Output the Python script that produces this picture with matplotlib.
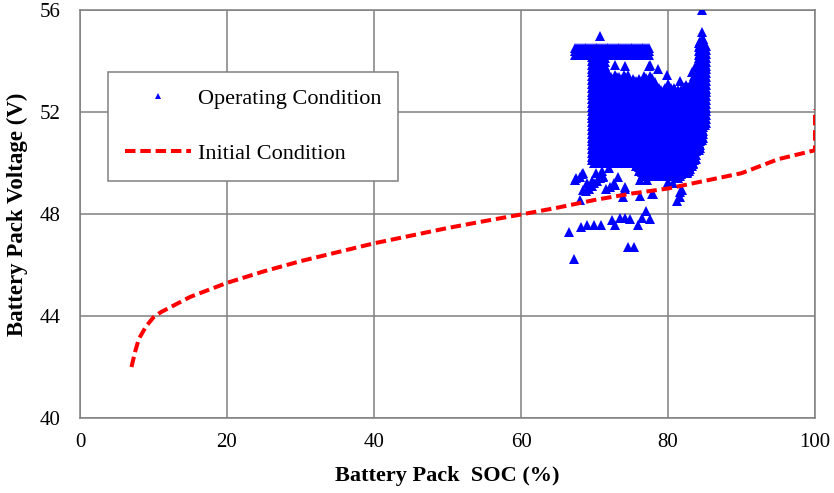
import numpy as np
import matplotlib
matplotlib.use("Agg")
import matplotlib.pyplot as plt

plt.rcParams['font.family'] = ['Liberation Serif', 'DejaVu Serif']

# ---------------- data ----------------
# Initial condition curve (SOC %, voltage V)
init_soc = [7, 7.5, 8, 9, 10, 11, 13, 15, 20, 25, 30, 35, 40, 45, 50, 55, 60,
            65, 70, 75, 80, 85, 90, 95, 100, 100]
init_v = [42.0, 42.6, 43.1, 43.6, 43.95, 44.15, 44.45, 44.75, 45.3, 45.75, 46.15,
          46.5, 46.85, 47.15, 47.45, 47.72, 47.98, 48.25, 48.55, 48.8, 49.0,
          49.3, 49.6, 50.15, 50.5, 52.1]

# Operating condition: dense core read as column envelopes (SOC, low V, high V)
core_soc = [69.6, 70.0, 70.4, 70.8, 71.2, 71.6, 72.0, 72.4, 72.8, 73.2, 73.6,
            74.0, 74.4, 74.8, 75.2, 75.6, 76.0, 76.4, 76.8, 77.2, 77.6, 78.0,
            78.4, 78.8, 79.2, 79.6, 80.0, 80.4, 80.8, 81.2, 81.6, 82.0, 82.4,
            82.8, 83.2, 83.6, 84.2, 84.6, 85.0]
core_vlo = [50.1, 50.0, 50.0, 50.0, 50.0, 50.0, 50.0, 50.0, 50.0, 50.0, 50.0,
            50.0, 50.0, 50.0, 50.0, 49.9, 49.7, 49.5, 49.5, 49.5, 49.5, 49.5,
            49.5, 49.5, 49.5, 49.5, 49.5, 49.5, 49.5, 49.5, 49.5, 49.6, 49.6,
            49.7, 49.9, 50.1, 50.5, 50.9, 51.5]
core_vhi = [54.3, 54.3, 54.3, 54.3, 54.3, 53.6, 53.4, 53.3, 53.5, 53.4, 53.3,
            53.5, 53.3, 53.2, 53.3, 53.2, 53.3, 53.2, 53.4, 53.3, 53.4, 53.2,
            53.0, 53.0, 52.9, 53.0, 53.1, 53.0, 53.0, 52.9, 52.9, 53.0, 53.1,
            53.0, 53.2, 53.4, 54.8, 54.9, 54.6]

# upper plateau band (SOC span, voltage span)
plateau_soc = [67.4, 77.5]
plateau_v = [54.25, 54.4, 54.5]

# individual scattered points (SOC, V)
pts_soc = [70.7, 71.7, 72.8, 74.1, 74.6, 77.4, 77.6, 78.6, 79.9, 81.6, 83.3,
           83.7, 84.6, 84.6, 84.8,
           67.3, 68.0, 68.4, 69.7, 71.2, 72.1, 72.8, 73.2, 74.1, 76.2, 77.1,
           78.0, 80.0, 81.4, 82.6, 81.9, 81.6, 83.4,
           67.5, 68.3, 69.0, 69.7, 68.4, 68.0, 68.8, 69.2, 69.6, 70.0, 70.4,
           70.8, 71.2, 71.6, 72.0, 72.6, 70.2, 71.0,
           74.1, 73.9, 76.2, 77.8, 81.2, 81.6, 80.7, 82.6,
           66.5, 67.2, 68.2, 69.0, 69.9, 70.9, 72.4, 72.8, 73.5, 74.1, 74.8,
           75.9, 76.5, 77.6, 77.0, 74.6, 75.4]
pts_v = [55.0, 53.6, 53.85, 53.8, 53.45, 53.8, 53.85, 53.7, 53.45, 53.2, 53.55,
         53.75, 56.0, 55.15, 54.85,
         49.35, 49.45, 49.6, 49.25, 49.45, 49.05, 49.15, 49.45, 49.0, 49.35, 49.35,
         48.8, 49.25, 49.4, 49.65, 48.95, 48.65, 50.0,
         49.4, 49.55, 49.2, 49.3, 48.95, 48.55, 48.9, 49.0, 49.1, 49.2, 49.3,
         49.4, 49.5, 49.0, 49.8, 49.2, 49.6, 49.7,
         49.05, 48.65, 48.7, 48.8, 48.5, 48.85, 49.2, 49.6,
         47.3, 46.25, 47.5, 47.55, 47.55, 47.55, 47.75, 47.55, 47.85, 47.85, 47.8,
         47.55, 47.85, 47.8, 48.1, 46.7, 46.7]

x_ticks = [0, 20, 40, 60, 80, 100]
y_ticks = [40, 44, 48, 52, 56]

# ---------------- build point cloud ----------------
op_x, op_y = [], []
for s, lo, hi in zip(core_soc, core_vlo, core_vhi):
    for v in np.arange(lo, hi + 1e-9, 0.15):
        op_x.append(s)
        op_y.append(v)
    for v in np.arange(lo + 0.07, hi + 1e-9, 0.15):
        op_x.append(s + 0.2)
        op_y.append(v)
for s in np.arange(plateau_soc[0], plateau_soc[1] + 1e-9, 0.25):
    for v in plateau_v:
        op_x.append(s)
        op_y.append(v)
op_x += pts_soc
op_y += pts_v

# ---------------- plot ----------------
fig = plt.figure(figsize=(8.34, 4.93), dpi=100)
ax = fig.add_axes([80 / 834, 1 - 418 / 493, 735 / 834, 408 / 493])

gray = '#808080'
ax.plot(op_x, op_y, linestyle='none', marker='^', markersize=7.5,
        color='#0000FF', markeredgewidth=0, label='Operating Condition', zorder=3)
ax.plot(init_soc, init_v, color='#FF0000', linewidth=2.9, dashes=(2.6, 1.2),
        label='Initial Condition', zorder=4)

ax.set_xlim(0, 100)
ax.set_ylim(40, 56)
ax.set_xticks(x_ticks)
ax.set_yticks(y_ticks)
ax.grid(True, color=gray, linewidth=1.1)
ax.set_axisbelow(True)
for sp in ax.spines.values():
    sp.set_color(gray)
    sp.set_linewidth(1.1)
ax.tick_params(axis='both', length=0, labelsize=15, colors='black')
ax.tick_params(axis='x', pad=11)
ax.tick_params(axis='y', pad=14)

ax.set_xlabel('Battery Pack  SOC (%)', fontsize=16, fontweight='bold', labelpad=10)
ax.set_ylabel('Battery Pack Voltage (V)', fontsize=16.5, fontweight='bold', labelpad=8)

leg = ax.legend(loc='upper left', bbox_to_anchor=(0.038, 0.848), borderaxespad=0,
                fancybox=False, edgecolor=gray, framealpha=1, fontsize=16,
                numpoints=1, markerscale=0.6, handlelength=3.0, handletextpad=0.3,
                labelspacing=1.55, borderpad=0.75)
leg.get_frame().set_linewidth(1.1)

fig.savefig('out.png', dpi=100)
